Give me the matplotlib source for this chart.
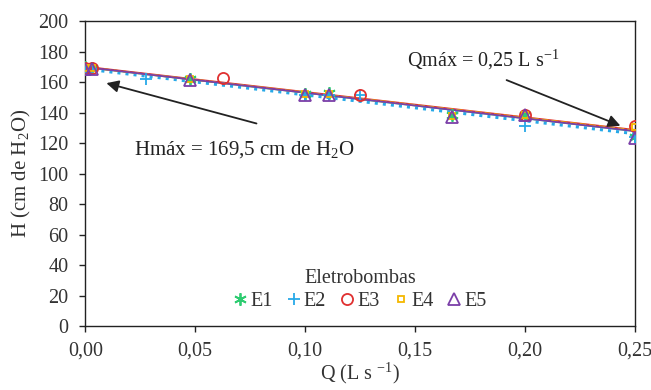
import numpy as np
import matplotlib
matplotlib.use("Agg")
import matplotlib.pyplot as plt

plt.rcParams['font.family'] = ['Liberation Serif', 'DejaVu Serif']
plt.rcParams['mathtext.fontset'] = 'custom'
plt.rcParams['mathtext.rm'] = 'Liberation Serif'

# Data (Q in L/s, H in cm H2O)
q_e1 = [0.0, 0.003, 0.0476, 0.100, 0.111, 0.1667, 0.200, 0.250]
h_e1 = [170.0, 169.5, 162.5, 152.5, 153.0, 138.5, 138.5, 124.0]
q_e2 = [0.0, 0.003, 0.0278, 0.100, 0.111, 0.125, 0.200, 0.250]
h_e2 = [168.0, 169.0, 162.5, 152.0, 152.0, 151.5, 131.5, 124.0]
q_e3 = [0.0, 0.003, 0.0625, 0.125, 0.200, 0.250]
h_e3 = [169.5, 169.5, 163.0, 152.0, 138.5, 131.5]
q_e4 = [0.0, 0.003, 0.0476, 0.100, 0.111, 0.1667, 0.200, 0.250]
h_e4 = [169.5, 169.5, 162.0, 152.5, 152.5, 138.0, 138.5, 131.0]
q_e5 = [0.0, 0.003, 0.0476, 0.100, 0.111, 0.1667, 0.200, 0.250]
h_e5 = [169.0, 169.0, 161.5, 152.0, 152.0, 137.5, 138.5, 123.5]

# fitted lines (intercept, slope)
fit_e1 = [170.0, -168.0]
fit_e2 = [168.8, -170.0]
fit_e3 = [170.3, -166.0]
fit_e4 = [170.0, -166.0]
fit_e5 = [170.0, -168.0]

series = [
    ("E1", q_e1, h_e1, fit_e1, "#2ecc71", (6, 2, 0), "-"),
    ("E2", q_e2, h_e2, fit_e2, "#27a9e8", "+", ":"),
    ("E3", q_e3, h_e3, fit_e3, "#e03030", "o", "-"),
    ("E4", q_e4, h_e4, fit_e4, "#f5b800", "s", "--"),
    ("E5", q_e5, h_e5, fit_e5, "#7b3fa8", "^", "-"),
]

FS = 14.5
TXT = "#333333"

fig = plt.figure(figsize=(6.51, 3.90), dpi=100)
ax = fig.add_axes([0.131, 0.164, 0.844, 0.781])

xs = np.array([0.0, 0.25])
for name, q, h, fit, col, mk, ls in series:
    lw = 2.2 if ls == ":" else 1.3
    ax.plot(xs, fit[0] + fit[1] * xs, color=col, linestyle=ls, linewidth=lw, zorder=2)
for name, q, h, fit, col, mk, ls in series:
    if mk in ("+", (6, 2, 0)):
        ax.plot(q, h, linestyle="none", marker=mk, color=col, markersize=9,
                markeredgewidth=1.3, label=name, zorder=3)
    elif mk == "s":
        ax.plot(q, h, linestyle="none", marker=mk, markerfacecolor="none",
                markeredgecolor=col, markersize=5, markeredgewidth=1.3, label=name, zorder=3)
    else:
        ax.plot(q, h, linestyle="none", marker=mk, markerfacecolor="none",
                markeredgecolor=col, markersize=8, markeredgewidth=1.3, label=name, zorder=3)

ax.set_xlim(0, 0.25)
ax.set_ylim(0, 200)
xticks = [0.0, 0.05, 0.10, 0.15, 0.20, 0.25]
ax.set_xticks(xticks)
ax.set_xticklabels([f"{v:.2f}".replace(".", ",") for v in xticks])
ax.set_yticks(np.arange(0, 201, 20))
ax.tick_params(direction="out", length=4, width=1, labelsize=FS, colors="#222222", labelcolor=TXT)
ax.xaxis.set_tick_params(pad=7)
ax.yaxis.set_tick_params(pad=8)
for s in ax.spines.values():
    s.set_linewidth(1.0)
    s.set_color("#222222")

ax.set_xlabel("Q (L s $^{-1}$)", fontsize=FS, color=TXT, labelpad=0)
ax.set_ylabel("H (cm de H$_2$O)", fontsize=FS + 0.5, color=TXT, labelpad=4)

arrow_kw = dict(arrowstyle="-|>", color="#222222", lw=1.3, mutation_scale=18,
                shrinkA=0, shrinkB=0)
ax.annotate("", xy=(0.0096, 159.5), xytext=(0.0779, 133), arrowprops=arrow_kw)
ax.text(0.0223, 115.5, "Hmáx = 169,5 cm de H$_2$O", fontsize=FS + 0.5, color="#222222",
        ha="left", va="center")
ax.annotate("", xy=(0.2435, 131.5), xytext=(0.1917, 161.5), arrowprops=arrow_kw)
ax.text(0.1466, 175, "Qmáx = 0,25 L s$^{-1}$", fontsize=FS, color="#222222",
        ha="left", va="center")

leg = ax.legend(loc="lower center", bbox_to_anchor=(0.5, 0.01), ncol=5, frameon=False,
                title="Eletrobombas", fontsize=FS, title_fontsize=FS,
                handlelength=0.7, handletextpad=0.15, columnspacing=0.7, borderpad=0.1,
                labelspacing=0.2)
for t in leg.get_texts():
    t.set_color(TXT)
leg.get_title().set_color(TXT)

fig.savefig("out.png", dpi=100)
